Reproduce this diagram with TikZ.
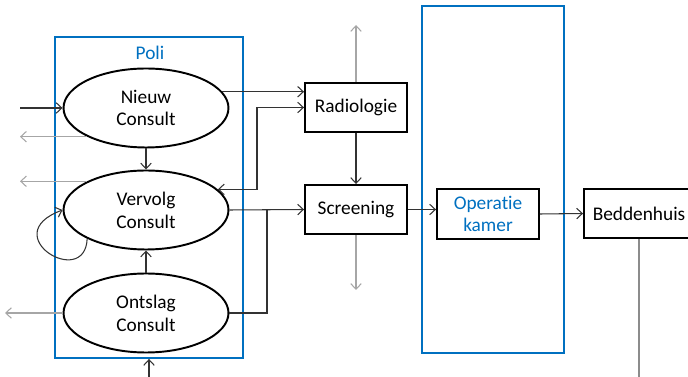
\documentclass[tikz,border=0pt]{standalone}
\usepackage{fontspec}
\setmainfont{Carlito}[Ligatures={NoCommon}]
\usepackage{xcolor}
\usepackage{tikz}
\usetikzlibrary{shapes.geometric,arrows.meta}
\definecolor{officeblue}{RGB}{0,112,192}

\begin{document}
\begin{tikzpicture}[
    x=0.02cm, y=-0.02cm,
    font=\fontsize{11}{13}\selectfont,
    consult/.style={ellipse, draw, line width=1.1pt, minimum width=3.3cm, minimum height=1.58cm, inner sep=0pt, align=center},
    unit/.style={rectangle, draw, line width=1.1pt, minimum width=2.04cm, minimum height=0.98cm, inner sep=0pt, align=center},
    zone/.style={rectangle, draw=officeblue, line width=1.1pt, inner sep=0pt},
    arrow/.style={->,>={Straight Barb[length=3.2pt,width=6pt]},line width=0.6pt,black!80},
    outarrow/.style={arrow,black!35},
    link/.style={line width=0.6pt,black!80}
]
    \clip (0,0) rectangle (688,377);

    % containers
    \node[zone, minimum width=3.76cm, minimum height=6.42cm] (poli) at (149,197.5) {};
    \node[text=officeblue] (polilabel) at (150,53) {Poli};
    \node[zone, minimum width=2.84cm, minimum height=6.94cm] (okzone) at (493,179.5) {};

    % consults
    \node[consult] (nieuw) at (146,108) {Nieuw\\Consult};
    \node[consult] (vervolg) at (146,210) {Vervolg\\Consult};
    \node[consult] (ontslag) at (146,313) {Ontslag\\Consult};

    % units
    \node[unit] (radiologie) at (356,107.5) {Radiologie};
    \node[unit] (screening) at (356,209.5) {Screening};
    \node[unit, text=officeblue, minimum height=1.0cm] (ok) at (488,214) {Operatie\\kamer};
    \node[unit, minimum width=2.2cm] (beddenhuis) at (639,213.5) {Beddenhuis};

    % free ends and bends
    \coordinate (inleft) at (20,108);
    \coordinate (nieuwout) at (20,136);
    \coordinate (vervolgout) at (20,182);
    \coordinate (ontslagout) at (5,313);
    \coordinate (inbottom) at (149,380);
    \coordinate (rkink) at (257,107.5);
    \coordinate (join) at (267,210);
    \coordinate (radup) at (356,25);
    \coordinate (screendown) at (356,290);
    \coordinate (beddown) at (639,380);

    % inside poli
    \draw[arrow] (inleft) -- (nieuw.west);
    \draw[arrow] (nieuw.south) -- (vervolg.north);
    \draw[arrow] (ontslag.north) -- (vervolg.south);
    \draw[arrow] (vervolg.206) .. controls (85,290) and (-5,235) .. (vervolg.west);
    \draw[arrow] (inbottom) -- (poli.south);

    % leaving the picture
    \draw[outarrow] (nieuw.206) -- (nieuw.206 -| nieuwout);
    \draw[outarrow] (vervolg.154) -- (vervolg.154 -| vervolgout);
    \draw[outarrow] (ontslag.west) -- (ontslagout);
    \draw[outarrow] (radiologie.north) -- (radup);
    \draw[outarrow] (screening.south) -- (screendown);
    \draw[line width=0.6pt, black!45] (beddenhuis.south) -- (beddown);

    % flow
    \draw[arrow] (nieuw.12) -- (nieuw.12 -| radiologie.west);
    \draw[arrow, <->] (vervolg.16) -| (rkink) -- (radiologie.west);
    \draw[arrow] (radiologie.south) -- (screening.north);
    \draw[arrow] (vervolg.east) -- (screening.west);
    \draw[link] (ontslag.east) -| (join);
    \draw[arrow] (screening.east) -- (screening.east -| ok.west);
    \draw[arrow] (ok.east) -- (beddenhuis.west);
\end{tikzpicture}
\end{document}
